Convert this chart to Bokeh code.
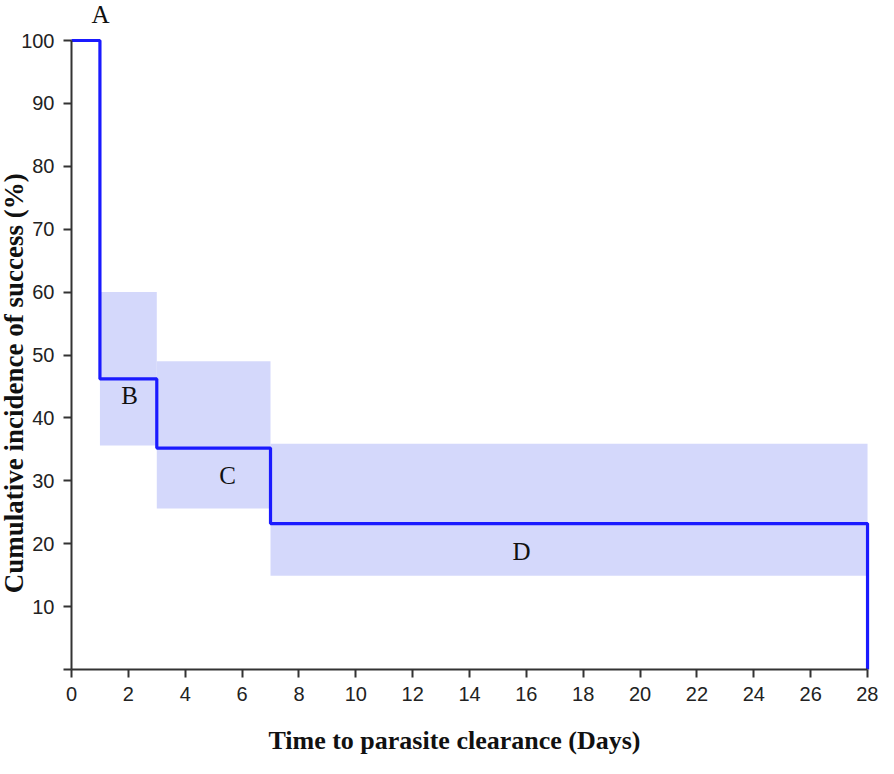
import math
from bokeh.plotting import figure
from bokeh.models import Range1d, FixedTicker, Label
from bokeh.embed import file_html
from bokeh.resources import INLINE

# Data
step_days = [0, 1, 3, 7, 28]
step_pct = [100, 46.2, 35.2, 23.2, 0]
band_left = [1, 3, 7]
band_right = [3, 7, 28]
band_top = [60, 49, 35.9]
band_bottom = [35.6, 25.6, 14.9]
seg_names = ["A", "B", "C", "D"]
seg_x = [1.02, 2.04, 5.49, 15.83]
seg_y = [104.2, 43.6, 30.8, 18.8]
x_ticks = list(range(0, 29, 2))
y_ticks = list(range(0, 101, 10))
x_title = "Time to parasite clearance (Days)"
y_title = "Cumulative incidence of success (%)"

W, H = 878, 758
PX_X = 28.43   # pixels per day
PX_Y = 6.29    # pixels per percent
X0, Y0 = 71, 669  # canvas position of the origin

p = figure(width=W, height=H, output_backend="svg", toolbar_location=None,
           x_range=Range1d(-X0 / PX_X, (W - X0) / PX_X),
           y_range=Range1d(-(H - Y0) / PX_Y, Y0 / PX_Y),
           min_border_left=0, min_border_right=0, min_border_top=0, min_border_bottom=0)
p.outline_line_color = None
p.grid.visible = False
p.background_fill_color = "white"

p.quad(left=band_left, right=band_right, top=band_top, bottom=band_bottom,
       fill_color="#d4d8fb", line_color=None)
p.step(x=step_days, y=step_pct, mode="after", line_color="#1a1aff", line_width=3.2)

for name, xx, yy in zip(seg_names, seg_x, seg_y):
    p.add_layout(Label(x=xx, y=yy, text=name, text_font="Liberation Serif", text_font_size="25px",
                       text_align="center", text_baseline="middle", text_color="#111111"))

p.add_layout(Label(x=-2.02, y=45.5, text=y_title, angle=math.pi / 2,
                   text_font="Liberation Serif", text_font_style="bold", text_font_size="27px",
                   text_align="center", text_baseline="middle", text_color="#111111"))
p.add_layout(Label(x=13.47, y=-11.3, text=x_title,
                   text_font="Liberation Serif", text_font_style="bold", text_font_size="26px",
                   text_align="center", text_baseline="middle", text_color="#111111"))

for ax in (p.xaxis[0], p.yaxis[0]):
    ax.fixed_location = 0
    ax.axis_line_color = "#333333"
    ax.axis_line_width = 2
    ax.major_tick_line_color = "#333333"
    ax.major_tick_line_width = 2
    ax.major_tick_in = 0
    ax.major_tick_out = 8
    ax.minor_tick_line_color = None
    ax.major_label_text_font = "Liberation Sans"
    ax.major_label_text_font_size = "20px"
    ax.major_label_text_color = "#222222"

p.xaxis.ticker = FixedTicker(ticks=x_ticks)
p.xaxis.bounds = (0, 28)
p.xaxis.major_label_standoff = 9

p.yaxis.ticker = FixedTicker(ticks=y_ticks)
p.yaxis.bounds = (0, 100)
p.yaxis.major_label_overrides = {0: ""}
p.yaxis.major_label_standoff = 9

open("out.html", "w").write(file_html(p, INLINE))
